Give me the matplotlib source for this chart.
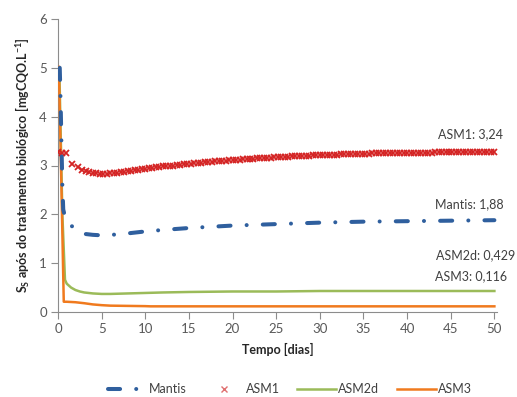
import numpy as np
import matplotlib
matplotlib.use("Agg")
import matplotlib.pyplot as plt
from matplotlib.lines import Line2D

plt.rcParams['font.family'] = ['Lato', 'DejaVu Sans']
plt.rcParams['mathtext.fontset'] = 'custom'
plt.rcParams['mathtext.rm'] = 'Lato'
plt.rcParams['mathtext.bf'] = 'Lato:bold'

# ---------------- data ----------------
mantis_t = [0.2, 0.3, 0.4, 0.5, 0.6, 0.8, 1.0, 1.5, 2.0, 2.5, 3.0, 4.0, 5.0, 6.0, 7.0, 8.0,
            10, 12, 15, 20, 25, 30, 35, 40, 45, 50]
mantis_v = [5.0, 4.3, 3.4, 2.6, 2.1, 1.95, 1.86, 1.77, 1.70, 1.64, 1.60, 1.58, 1.57, 1.58, 1.59, 1.61,
            1.65, 1.68, 1.72, 1.77, 1.80, 1.83, 1.85, 1.86, 1.87, 1.88]

asm1_t_early = [0.0, 0.5, 0.95, 1.6, 2.3]
asm1_v_early = [3.27, 3.26, 3.25, 3.03, 2.96]
asm1_t_dense = np.arange(2.8, 50.01, 0.4)
asm1_v_dense = [2.90, 2.88, 2.86, 2.85, 2.84, 2.83, 2.83, 2.83,
                2.84, 2.84, 2.85, 2.86, 2.87, 2.88, 2.89, 2.90, 2.91, 2.92,
                2.93, 2.94, 2.95, 2.96, 2.97, 2.98, 2.99, 3.00, 3.00, 3.01,
                3.02, 3.03, 3.03, 3.04, 3.05, 3.06, 3.06, 3.07, 3.08, 3.08,
                3.09, 3.09, 3.10, 3.10, 3.11, 3.11, 3.12, 3.12, 3.13, 3.13,
                3.14, 3.14, 3.15, 3.15, 3.16, 3.16, 3.16, 3.17, 3.17, 3.18,
                3.18, 3.18, 3.19, 3.19, 3.19, 3.20, 3.20, 3.20, 3.21, 3.21,
                3.21, 3.21, 3.22, 3.22, 3.22, 3.22, 3.23, 3.23, 3.23, 3.23,
                3.24, 3.24, 3.24, 3.24, 3.24, 3.25, 3.25, 3.25, 3.25, 3.25,
                3.25, 3.26, 3.26, 3.26, 3.26, 3.26, 3.26, 3.26, 3.26, 3.26,
                3.26, 3.26, 3.26, 3.27, 3.27, 3.27, 3.27, 3.27, 3.27, 3.27,
                3.27, 3.27, 3.27, 3.27, 3.27, 3.27, 3.27, 3.27, 3.27, 3.27,
                3.27]

asm2d_t = [0.15, 0.5, 0.8, 1.0, 1.5, 2.0, 2.5, 3.0, 4.0, 5.0, 6.0, 8.0, 10, 12, 15, 20, 25, 30, 40, 50]
asm2d_v = [5.0, 2.0, 0.66, 0.58, 0.50, 0.45, 0.42, 0.40, 0.38, 0.37, 0.37, 0.38, 0.39, 0.40, 0.41,
           0.42, 0.42, 0.43, 0.43, 0.43]

asm3_t = [0.1, 0.4, 0.66, 1.0, 2.0, 3.0, 4.0, 5.0, 6.0, 8.0, 10.0, 10.6, 12, 20, 30, 40, 50]
asm3_v = [5.02, 2.5, 0.21, 0.21, 0.20, 0.18, 0.155, 0.14, 0.13, 0.125, 0.12, 0.116, 0.116,
          0.116, 0.116, 0.116, 0.116]

labels = ["Mantis", "ASM1", "ASM2d", "ASM3"]
end_labels = ["Mantis: 1,88", "ASM1: 3,24", "ASM2d: 0,429", "ASM3: 0,116"]
x_ticks = [0, 5, 10, 15, 20, 25, 30, 35, 40, 45, 50]
y_ticks = [0, 1, 2, 3, 4, 5, 6]

# ---------------- style ----------------
c_mantis = "#2F5F9E"
c_asm1 = "#D42424"
c_asm2d = "#9BBB59"
c_asm3 = "#F07A1E"
gray = "#595959"
spine_c = "#8C8C8C"
mantis_ls = (0, (3, 4, 0.01, 4))

fig = plt.figure(figsize=(5.17, 3.97), dpi=100)
ax = fig.add_axes([58 / 517, 1 - 312 / 397, (497 - 58) / 517, (312 - 19) / 397])

ax.plot(asm2d_t, asm2d_v, color=c_asm2d, lw=1.8, zorder=2)
ax.plot(asm3_t, asm3_v, color=c_asm3, lw=1.8, zorder=3)
asm1_t = list(asm1_t_early) + list(asm1_t_dense)
asm1_v = asm1_v_early + asm1_v_dense
ax.plot(asm1_t, asm1_v, ls='none', marker='x', ms=5, mew=1.3, color=c_asm1, zorder=4)
ax.plot(mantis_t, mantis_v, color=c_mantis, lw=2.9, ls=mantis_ls,
        dash_capstyle='round', zorder=5)

ax.set_xlim(0, 50.3)
ax.set_ylim(0, 6)
ax.set_xticks(x_ticks)
ax.set_yticks(y_ticks)
for s in ['top', 'right']:
    ax.spines[s].set_visible(False)
for s in ['left', 'bottom']:
    ax.spines[s].set_color(spine_c)
    ax.spines[s].set_linewidth(0.8)
ax.tick_params(axis='both', direction='out', length=5, width=0.8, color=spine_c,
               labelcolor=gray, labelsize=9.5, pad=3)

ax.set_xlabel("Tempo [dias]", fontsize=9, fontweight='bold', color='#262626', labelpad=6)
ax.set_ylabel(r"S$_\mathbf{S}$ após do tratamento biológico [mgCQO.L$^{\mathbf{-1}}$]",
              fontsize=9, fontweight='bold', color='#262626', labelpad=5)

# end labels
lbl_pos = {
    "Mantis: 1,88": (504, 204),
    "ASM1: 3,24": (503, 134),
    "ASM2d: 0,429": (515, 255),
    "ASM3: 0,116": (507, 276),
}
for txt in end_labels:
    px, py = lbl_pos[txt]
    fig.text(px / 517, 1 - py / 397, txt, ha='right', va='center', fontsize=9, color='#404040')

handles = [
    Line2D([], [], color=c_mantis, lw=2.9, ls=mantis_ls, dash_capstyle='round'),
    Line2D([], [], ls='none', marker='x', ms=5, mew=1.0, color="#E07070"),
    Line2D([], [], color=c_asm2d, lw=1.8),
    Line2D([], [], color=c_asm3, lw=1.8),
]
fig.legend(handles, labels, loc='center', bbox_to_anchor=(290 / 517, 1 - 389 / 397),
           ncol=4, frameon=False, fontsize=9, handlelength=3.1, handletextpad=0.2,
           columnspacing=1.4, labelcolor='#404040')

fig.savefig("out.png", dpi=100)
